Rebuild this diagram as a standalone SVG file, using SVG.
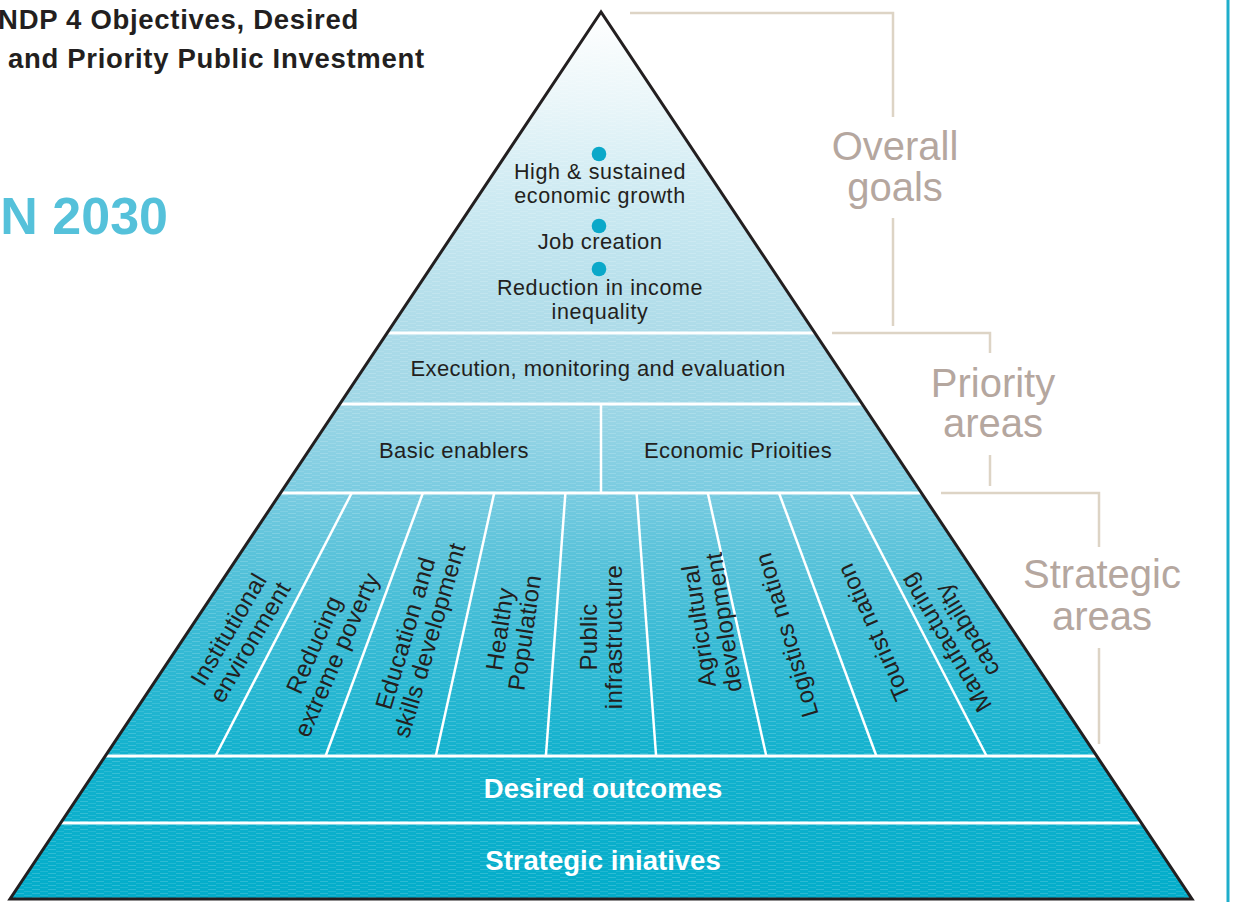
<svg xmlns="http://www.w3.org/2000/svg" width="1234" height="902" viewBox="0 0 1234 902">
<defs>
<style>
.t{font-family:"Liberation Sans",Arial,sans-serif;font-size:22px;fill:#231f20;letter-spacing:0.4px;text-anchor:middle}
.s{font-family:"Liberation Sans",Arial,sans-serif;font-size:21.5px;fill:#231f20;letter-spacing:0.6px;text-anchor:middle}
.r{font-family:"Liberation Sans",Arial,sans-serif;font-size:24px;fill:#231f20;letter-spacing:0.3px;text-anchor:middle}
.b{font-family:"Liberation Sans",Arial,sans-serif;font-size:27.5px;font-weight:bold;fill:#ffffff;text-anchor:middle}
.lab{font-family:"Liberation Sans",Arial,sans-serif;font-size:40px;fill:#b5a79f;text-anchor:middle}
.title{font-family:"Liberation Sans",Arial,sans-serif;font-size:27.5px;font-weight:bold;fill:#231f20;letter-spacing:0.7px}
.vis{font-family:"Liberation Sans",Arial,sans-serif;font-size:52px;font-weight:bold;fill:#55c1da;text-anchor:end}
.wl{stroke:#ffffff;stroke-width:3;fill:none}
.wd{stroke:#ffffff;stroke-width:2.5;fill:none}
.br{stroke:#ddd4c5;stroke-width:2.5;fill:none}
.dot{fill:#0aa8c9}
</style>
<linearGradient id="g" gradientUnits="userSpaceOnUse" x1="0" y1="12" x2="0" y2="899">
<stop offset="0" stop-color="#ffffff"/>
<stop offset="0.1" stop-color="#eaf6f9"/>
<stop offset="0.21" stop-color="#cdeaf2"/>
<stop offset="0.35" stop-color="#afdce9"/>
<stop offset="0.44" stop-color="#a0d7e6"/>
<stop offset="0.54" stop-color="#7bcce1"/>
<stop offset="0.6" stop-color="#5fc4db"/>
<stop offset="0.7" stop-color="#3bbbd5"/>
<stop offset="0.83" stop-color="#14b2ce"/>
<stop offset="1" stop-color="#03adca"/>
</linearGradient>
<pattern id="tex" width="16" height="4" patternUnits="userSpaceOnUse">
<rect x="0" y="1" width="8" height="1" fill="#ffffff" opacity="0.16"/>
<rect x="8" y="3" width="8" height="1" fill="#ffffff" opacity="0.11"/>
</pattern>
</defs>
<rect width="1234" height="902" fill="#ffffff"/>

<g id="title">
<text class="title" x="359" y="29" text-anchor="end">NDP 4 Objectives, Desired</text>
<text class="title" x="8" y="68">and Priority Public Investment</text>
</g>
<g id="vision">
<text class="vis" x="168" y="234">N 2030</text>
</g>

<g id="pyramid">
<polygon points="601,12 10,899 1192,899" fill="url(#g)"/>
<polygon points="601,12 10,899 1192,899" fill="url(#tex)"/>
<line class="wl" x1="387" y1="333" x2="815" y2="333"/>
<line class="wl" x1="340" y1="404" x2="862" y2="404"/>
<line class="wl" x1="280" y1="493" x2="922" y2="493"/>
<line class="wl" x1="105" y1="756" x2="1097" y2="756"/>
<line class="wl" x1="60" y1="823" x2="1142" y2="823"/>
<line class="wd" x1="601" y1="404" x2="601" y2="493"/>
<line class="wd" x1="351.7" y1="493" x2="215.5" y2="756"/>
<line class="wd" x1="422.9" y1="493" x2="325.6" y2="756"/>
<line class="wd" x1="494.2" y1="493" x2="435.8" y2="756"/>
<line class="wd" x1="565.4" y1="493" x2="545.9" y2="756"/>
<line class="wd" x1="636.6" y1="493" x2="656.1" y2="756"/>
<line class="wd" x1="707.8" y1="493" x2="766.3" y2="756"/>
<line class="wd" x1="779" y1="493" x2="876.4" y2="756"/>
<line class="wd" x1="850.3" y1="493" x2="986.6" y2="756"/>
<polygon points="601,12 10,899 1192,899" fill="none" stroke="#231f20" stroke-width="3" stroke-linejoin="miter"/>
</g>

<g id="goals">
<circle class="dot" cx="599" cy="154" r="7.3"/>
<text class="s" x="600" y="179">High &amp; sustained</text>
<text class="s" x="600" y="203">economic growth</text>
<circle class="dot" cx="599" cy="226" r="7.3"/>
<text class="t" x="600" y="249">Job creation</text>
<circle class="dot" cx="599" cy="269" r="7.3"/>
<text class="s" x="600" y="295">Reduction in income</text>
<text class="s" x="600" y="319">inequality</text>
</g>

<g id="execution"><text class="t" x="598" y="376">Execution, monitoring and evaluation</text></g>
<g id="basic-enablers"><text class="t" x="454" y="458">Basic enablers</text></g>
<g id="economic-priorities"><text class="t" x="738" y="458">Economic Prioities</text></g>

<g id="sa-institutional" transform="translate(240,636) rotate(-59.4)">
<text class="r" y="-5">Institutional</text><text class="r" y="20">environment</text></g>
<g id="sa-poverty" transform="translate(326,650) rotate(-66.1)">
<text class="r" y="-5">Reducing</text><text class="r" y="20">extreme poverty</text></g>
<g id="sa-education" transform="translate(418,637) rotate(-73.5)">
<text class="r" y="-5">Education and</text><text class="r" y="20">skills development</text></g>
<g id="sa-health" transform="translate(513,631) rotate(-81.6)">
<text class="r" y="-5">Healthy</text><text class="r" y="20">Population</text></g>
<g id="sa-infrastructure" transform="translate(602,637) rotate(-90)">
<text class="r" y="-5">Public</text><text class="r" y="20">infrastructure</text></g>
<g id="sa-agriculture" transform="translate(712,624) rotate(-98.4)">
<text class="r" y="-5">Agricultural</text><text class="r" y="20">development</text></g>
<g id="sa-logistics" transform="translate(787,635) rotate(-106.5)">
<text class="r" y="8">Logistics nation</text></g>
<g id="sa-tourist" transform="translate(874,632) rotate(-113.9)">
<text class="r" y="8">Tourist nation</text></g>
<g id="sa-manufacturing" transform="translate(957,636) rotate(-120.6)">
<text class="r" y="-5">Manufacturing</text><text class="r" y="20">capability</text></g>

<g id="desired-outcomes"><text class="b" x="603" y="798">Desired outcomes</text></g>
<g id="strategic-initiatives"><text class="b" x="603" y="870">Strategic iniatives</text></g>

<g id="label-overall"><text class="lab" x="895" y="160">Overall</text><text class="lab" x="895" y="201">goals</text></g>
<g id="label-priority"><text class="lab" x="993" y="397">Priority</text><text class="lab" x="993" y="437">areas</text></g>
<g id="label-strategic"><text class="lab" x="1102" y="588">Strategic</text><text class="lab" x="1102" y="630">areas</text></g>

<g id="connectors">
<path class="br" d="M630,13 H893 V117 M893,218 V326"/>
<path class="br" d="M832,333 H990 V353 M990,455 V486"/>
<path class="br" d="M941,493 H1099 V547 M1099,648 V744"/>
<line x1="1228" y1="0" x2="1228" y2="902" stroke="#1eaecb" stroke-width="3"/>
</g>
</svg>
